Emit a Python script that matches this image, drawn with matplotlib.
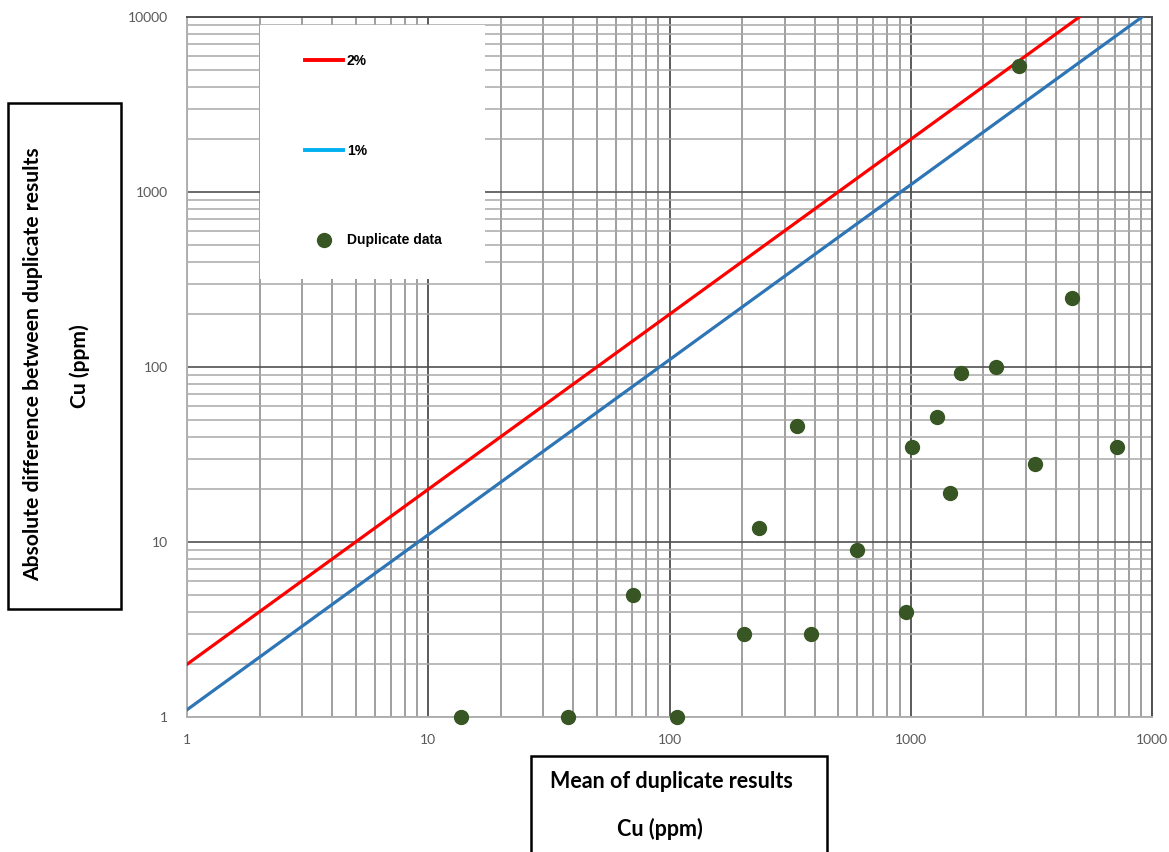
# Cu duplicates: absolute difference vs mean, log-log with 2% / 1% precision lines
import numpy as np
import matplotlib
matplotlib.use("Agg")
import matplotlib.pyplot as plt
from matplotlib.lines import Line2D
from matplotlib.patches import Rectangle
from matplotlib.ticker import FixedLocator, LogLocator, NullFormatter

# data
mean_cu = [13.7, 38, 107, 70.6, 204, 235, 338, 386, 598, 955,
           1012, 1285, 1455, 1615, 2255, 3274, 7160, 2810, 4660]
abs_diff = [1, 1, 1, 5, 3, 12, 46, 3, 9, 4,
            35, 52, 19, 92, 100, 28, 35, 5250, 248]

line_x = [1, 10000]
factor_2pct = 2.0
factor_1pct = 1.1
tick_vals = [1, 10, 100, 1000, 10000]
x_tick_labels = ["1", "10", "100", "1000", "1000"]   # last one as shown (cropped)
y_tick_labels = ["1", "10", "100", "1000", "10000"]

W, H = 1169, 852
fig = plt.figure(figsize=(W / 100, H / 100), dpi=100)
ax = fig.add_axes([187 / W, (H - 717) / H, (1152 - 187) / W, 700 / H])
ax.set_xscale("log")
ax.set_yscale("log")
ax.set_xlim(1, 10000)
ax.set_ylim(1, 10000)

# grid
ax.xaxis.set_major_locator(FixedLocator(tick_vals))
ax.yaxis.set_major_locator(FixedLocator(tick_vals))
ax.xaxis.set_minor_locator(LogLocator(base=10, subs=np.arange(2, 10)))
ax.yaxis.set_minor_locator(LogLocator(base=10, subs=np.arange(2, 10)))
ax.xaxis.set_minor_formatter(NullFormatter())
ax.yaxis.set_minor_formatter(NullFormatter())
ax.set_xticklabels(x_tick_labels)
ax.set_yticklabels(y_tick_labels)
ax.grid(which="major", axis="x", color="#404040", lw=1.2)
ax.grid(which="minor", axis="x", color="#858585", lw=1.1)
ax.grid(which="major", axis="y", color="#505050", lw=1.2)
ax.grid(which="minor", axis="y", color="#a8a8a8", lw=1.1)
ax.set_axisbelow(True)
ax.tick_params(which="both", length=0)
ax.tick_params(axis="x", pad=12, labelsize=10, labelcolor="#595959")
ax.tick_params(axis="y", pad=14, labelsize=10, labelcolor="#595959")
for lab in ax.get_xticklabels() + ax.get_yticklabels():
    lab.set_family("Lato")
for s in ["top", "right"]:
    ax.spines[s].set_color("#505050")
    ax.spines[s].set_linewidth(1.4)
for s in ["bottom", "left"]:
    ax.spines[s].set_color("#b0b0b0")
    ax.spines[s].set_linewidth(1.4)

lx = np.array(line_x, dtype=float)
ax.plot(lx, factor_2pct * lx, color="#ff0000", lw=2.3, zorder=3)
ax.plot(lx, factor_1pct * lx, color="#2e75b6", lw=2.3, zorder=3)
ax.scatter(mean_cu, abs_diff, s=100, color="#375623", zorder=4, clip_on=False)

# white legend panel over the grid
ax.add_patch(Rectangle((0.0756, 0.6257), 0.2335, 0.363, transform=ax.transAxes,
                       facecolor="white", edgecolor="none", zorder=2.5))
handles = [
    Line2D([], [], color="#ff0000", lw=2.8),
    Line2D([], [], color="#00b0f0", lw=2.8),
    Line2D([], [], ls="none", marker="o", ms=10, color="#375623"),
]
leg = ax.legend(handles, ["2%", "1%", "Duplicate data"], loc="upper left",
                bbox_to_anchor=(0.1223, 0.947), frameon=False, borderpad=0,
                borderaxespad=0, handlelength=2.75, handletextpad=0.25,
                labelspacing=5.45,
                prop={"family": "Liberation Sans", "weight": "bold", "size": 10})
leg.set_zorder(5)

# y label box
fig.add_artist(Rectangle((8 / W, (H - 609) / H), 113 / W, 506 / H,
                         transform=fig.transFigure, fill=False,
                         edgecolor="black", lw=1.8))
fig.text(33 / W, (H - 364) / H, "Absolute difference between duplicate results",
         rotation=90, ha="center", va="center", family="Lato",
         weight="bold", size=15.2)
fig.text(80 / W, (H - 366) / H, "Cu (ppm)", rotation=90, ha="center",
         va="center", family="Lato", weight="bold", size=15.2)

# x label box
fig.add_artist(Rectangle((531 / W, -0.02), 296 / W, (H - 756) / H + 0.02,
                         transform=fig.transFigure, fill=False,
                         edgecolor="black", lw=1.8))
fig.text(671 / W, (H - 781) / H, "Mean of duplicate results", ha="center",
         va="center", family="Lato", weight="bold", size=15.5)
fig.text(660 / W, (H - 829) / H, "Cu (ppm)", ha="center", va="center",
         family="Lato", weight="bold", size=15.5)

fig.savefig("out.png", dpi=100, facecolor="white")
